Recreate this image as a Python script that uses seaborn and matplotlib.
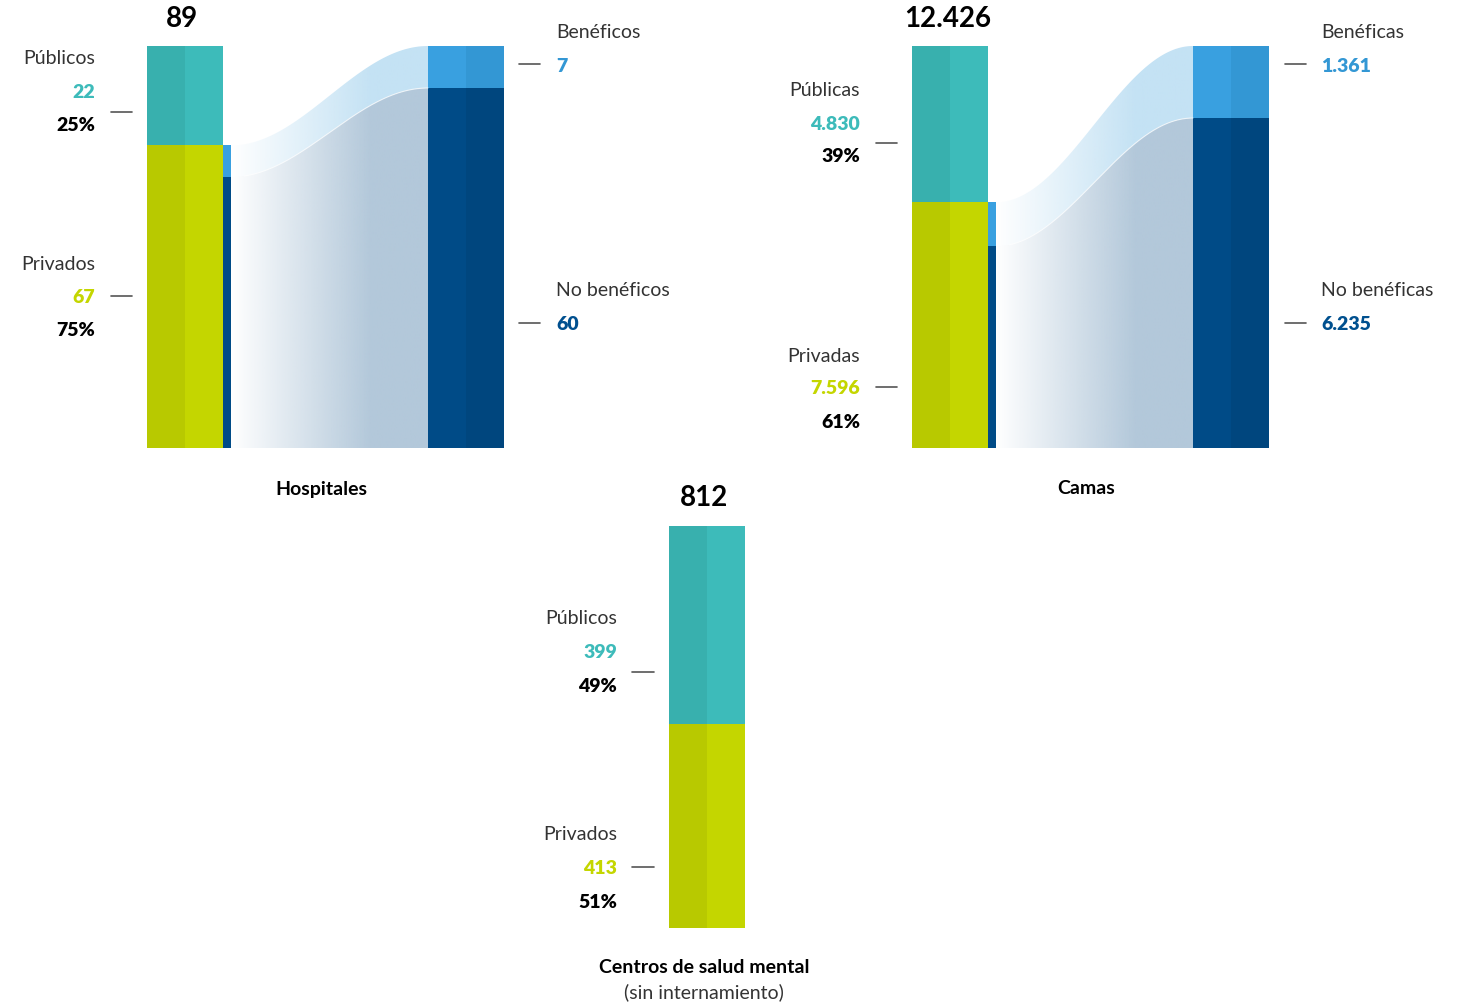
import numpy as np
import matplotlib
matplotlib.use("Agg")
import matplotlib.pyplot as plt
import seaborn as sns
from matplotlib.patches import Polygon
from matplotlib.lines import Line2D
from matplotlib.colors import to_rgb

# ---------------- data ----------------
hosp_labels = ["Públicos", "Privados"]
hosp_values = [22, 67]
hosp_split_labels = ["Benéficos", "No benéficos"]
hosp_split_values = [7, 60]

camas_labels = ["Públicas", "Privadas"]
camas_values = [4830, 7596]
camas_split_labels = ["Benéficas", "No benéficas"]
camas_split_values = [1361, 6235]

mental_labels = ["Públicos", "Privados"]
mental_values = [399, 413]

panel_titles = ["Hospitales", "Camas", "Centros de salud mental"]
mental_subtitle = "(sin internamiento)"

# ---------------- style ----------------
sns.set_theme(style="white")
plt.rcParams["font.family"] = ["Lato", "DejaVu Sans"]

TEAL_D, TEAL_L = "#38B0AE", "#3DBBBA"
LIME_D, LIME_L = "#B8C900", "#C4D600"
LB_D, LB_L = "#39A0E0", "#3397D4"
DB_D, DB_L = "#004B87", "#00467E"
FLOW_LIGHT = "#C4E2F4"
FLOW_DARK = "#B3C8DA"
TXT = "#333333"
DASH = "#555555"
NUMW = "heavy"
TOTW = "bold"

W, H = 1467, 1003
fig = plt.figure(figsize=(W / 100, H / 100), dpi=100)
fig.patch.set_facecolor("white")


def ax_at(x0, y0, x1, y1):
    ax = fig.add_axes([x0 / W, 1 - y1 / H, (x1 - x0) / W, (y1 - y0) / H])
    ax.axis("off")
    return ax


def ftext(x, y, s, **kw):
    kw.setdefault("va", "center")
    fig.text(x / W, 1 - (y + 1) / H, s, **kw)


def dash(x0, x1, y):
    fig.add_artist(Line2D([x0 / W, x1 / W], [1 - y / H, 1 - y / H],
                          color=DASH, lw=1.2, transform=fig.transFigure))


def fmt(v):
    return f"{v:,}".replace(",", ".")


def stacked_bar(ax, x, w, values, colors_d, colors_l):
    bottom = 0
    for v, cd, cl in zip(values, colors_d, colors_l):
        ax.bar(x, v, width=w / 2, bottom=bottom, align="edge", color=cd, linewidth=0)
        ax.bar(x + w / 2, v, width=w / 2, bottom=bottom, align="edge", color=cl, linewidth=0)
        bottom += v


def flow_band(ax, x0, x1, l_lo, l_hi, r_lo, r_hi, color, ymax, ramp):
    xs = np.linspace(x0, x1, 300)
    t = (xs - x0) / (x1 - x0)
    s = (1 - np.cos(np.pi * t)) / 2
    lo = l_lo + (r_lo - l_lo) * s
    hi = l_hi + (r_hi - l_hi) * s
    verts = np.concatenate([np.column_stack([xs, hi]), np.column_stack([xs[::-1], lo[::-1]])])
    poly = Polygon(verts, closed=True, facecolor="none", edgecolor="none")
    ax.add_patch(poly)
    n = 400
    gx = np.linspace(x0, x1, n)
    alpha = np.clip((gx - x0) / ramp, 0, 1)
    img = np.zeros((1, n, 4))
    img[0, :, 0:3] = to_rgb(color)
    img[0, :, 3] = alpha
    im = ax.imshow(img, extent=[x0, x1, 0, ymax], aspect="auto", origin="lower",
                   interpolation="bilinear", zorder=1)
    im.set_clip_path(poly)
    return xs, lo, hi


def sankey_panel(px0, values, split_values):
    ax = ax_at(px0, 47, px0 + 357, 449)
    total = sum(values)
    pub, priv = values
    ben, nob = split_values
    scale = total / priv
    stacked_bar(ax, 0, 76, [priv, pub], [LIME_D, TEAL_D], [LIME_L, TEAL_L])
    ax.bar(76, nob, width=8, bottom=0, align="edge", color=DB_D, linewidth=0)
    ax.bar(76, ben, width=8, bottom=nob, align="edge", color=LB_D, linewidth=0)
    stacked_bar(ax, 281, 76, [nob * scale, ben * scale], [DB_D, LB_D], [DB_L, LB_L])
    flow_band(ax, 84, 281, nob, priv, nob * scale, total, FLOW_LIGHT, total, 140)
    xs, lo, hi = flow_band(ax, 84, 281, 0, nob, 0, nob * scale, FLOW_DARK, total, 140)
    ax.plot(xs[20:], hi[20:], color="white", lw=0.8, alpha=0.7, zorder=2)
    ax.set_xlim(0, 357)
    ax.set_ylim(0, total)
    return ax


# ---------------- Hospitales ----------------
sankey_panel(147, hosp_values, hosp_split_values)
tot = sum(hosp_values)
ftext(182, 18, fmt(tot), ha="center", fontsize=20, weight=TOTW, color="black")
for (ny, vy, py, dy), lab, v, col in zip([(58, 92, 125, 113), (263, 297, 330, 297)],
                                         hosp_labels, hosp_values, [TEAL_L, LIME_L]):
    ftext(95, ny, lab, ha="right", fontsize=14, color=TXT)
    ftext(95, vy, fmt(v), ha="right", fontsize=14, weight=NUMW, color=col)
    ftext(95, py, f"{round(v / tot * 100)}%", ha="right", fontsize=14, weight=NUMW, color="black")
    dash(111, 132, dy)
for (ny, vy), lab, v, col in zip([(32, 65), (290, 324)], hosp_split_labels,
                                 hosp_split_values, [LB_L, "#00508F"]):
    ftext(556, ny, lab, ha="left", fontsize=14, color=TXT)
    ftext(556, vy, fmt(v), ha="left", fontsize=14, weight=NUMW, color=col)
    dash(519, 540, vy)
ftext(321, 488, panel_titles[0], ha="center", fontsize=14, weight="bold", color="black")

# ---------------- Camas ----------------
sankey_panel(912, camas_values, camas_split_values)
tot = sum(camas_values)
ftext(948, 18, fmt(tot), ha="center", fontsize=20, weight=TOTW, color="black")
for (ny, vy, py, dy), lab, v, col in zip([(89, 123, 156, 144), (355, 388, 422, 388)],
                                         camas_labels, camas_values, [TEAL_L, LIME_L]):
    ftext(860, ny, lab, ha="right", fontsize=14, color=TXT)
    ftext(860, vy, fmt(v), ha="right", fontsize=14, weight=NUMW, color=col)
    ftext(860, py, f"{round(v / tot * 100)}%", ha="right", fontsize=14, weight=NUMW, color="black")
    dash(876, 897, dy)
for (ny, vy), lab, v, col in zip([(32, 65), (290, 324)], camas_split_labels,
                                 camas_split_values, [LB_L, "#00508F"]):
    ftext(1321, ny, lab, ha="left", fontsize=14, color=TXT)
    ftext(1321, vy, fmt(v), ha="left", fontsize=14, weight=NUMW, color=col)
    dash(1285, 1306, vy)
ftext(1086, 488, panel_titles[1], ha="center", fontsize=14, weight="bold", color="black")

# ---------------- Centros de salud mental ----------------
ax = ax_at(669, 527, 745, 929)
pub, priv = mental_values
tot = sum(mental_values)
stacked_bar(ax, 0, 76, [priv, pub], [LIME_D, TEAL_D], [LIME_L, TEAL_L])
ax.set_xlim(0, 76)
ax.set_ylim(0, tot)
ftext(704, 497, fmt(tot), ha="center", fontsize=20, weight=TOTW, color="black")
for (ny, vy, py, dy), lab, v, col in zip([(618, 652, 685, 673), (834, 868, 901, 868)],
                                         mental_labels, mental_values, [TEAL_L, LIME_L]):
    ftext(617, ny, lab, ha="right", fontsize=14, color=TXT)
    ftext(617, vy, fmt(v), ha="right", fontsize=14, weight=NUMW, color=col)
    ftext(617, py, f"{round(v / tot * 100)}%", ha="right", fontsize=14, weight=NUMW, color="black")
    dash(632, 654, dy)
ftext(704, 967, panel_titles[2], ha="center", fontsize=14, weight="bold", color="black")
ftext(704, 991, mental_subtitle, ha="center", fontsize=14, color=TXT)

fig.savefig("out.png", dpi=100, facecolor="white")
